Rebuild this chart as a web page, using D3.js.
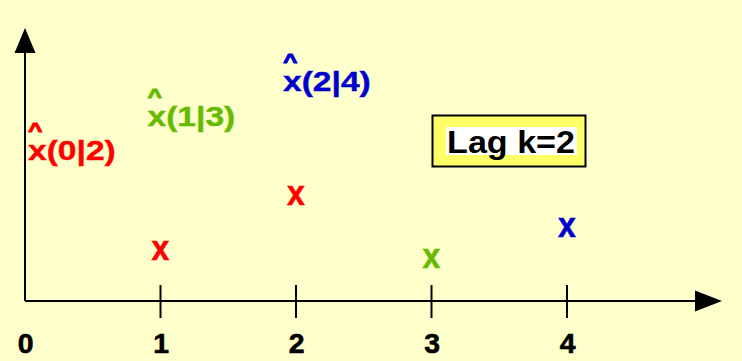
<!DOCTYPE html>
<html>
<head>
<meta charset="utf-8">
<script src="https://cdn.jsdelivr.net/npm/d3@7"></script>
<style>
  body { margin: 0; background: #ffffff; }
  text { font-family: "Liberation Sans", Arial, sans-serif; font-weight: bold; }
</style>
</head>
<body>
<div id="container"></div>
<script>
const times = [1, 2, 3, 4];
const values = [1.8, 3.8, 1.5, 2.65];
const pointColors = ["#ff0000", "#ff0000", "#66bb00", "#0000cc"];

// estimates x^(t|t+k) with lag k = 2
const estTimes = [0, 1, 2];
const estLabels = ["(0|2)", "(1|3)", "(2|4)"];
const estLevels = [5.25, 6.5, 7.75];
const estColors = ["#ff0000", "#66bb00", "#0000cc"];

const tickValues = [0, 1, 2, 3, 4];
const lagText = "Lag k=2";

const width = 742;
const height = 361;
const stretch = 1.2; // the original text is drawn wide

const svg = d3
  .select("#container")
  .append("svg")
  .attr("width", width)
  .attr("height", height);

// background
svg.append("rect")
  .attr("x", 0).attr("y", 0)
  .attr("width", width).attr("height", height)
  .attr("fill", "#ffffcc");

// scales
const xScale = d3.scaleLinear().domain([0, 4]).range([25, 567]);
const yScale = d3.scaleLinear().domain([0, 10]).range([301, 28]);

const x0 = xScale(0);
const y0 = yScale(0);

// axes lines
svg.append("line")
  .attr("x1", x0).attr("x2", 697)
  .attr("y1", y0).attr("y2", y0)
  .attr("stroke", "#000").attr("stroke-width", 2);
svg.append("line")
  .attr("x1", x0).attr("x2", x0)
  .attr("y1", y0).attr("y2", 52)
  .attr("stroke", "#000").attr("stroke-width", 2);

// arrow heads
svg.append("path")
  .attr("d", `M${695},${y0 - 10.5} L${722},${y0} L${695},${y0 + 10.5} Z`)
  .attr("fill", "#000");
svg.append("path")
  .attr("d", `M${x0 - 10.5},${53} L${x0},${yScale(10)} L${x0 + 10.5},${53} Z`)
  .attr("fill", "#000");

// ticks
svg.selectAll(".tick")
  .data(tickValues.filter((d) => d > 0))
  .enter()
  .append("line")
  .attr("class", "tick")
  .attr("x1", (d) => xScale(d)).attr("x2", (d) => xScale(d))
  .attr("y1", y0 - 16).attr("y2", y0 + 17)
  .attr("stroke", "#000").attr("stroke-width", 2);

// tick labels
svg.selectAll(".tick-label")
  .data(tickValues)
  .enter()
  .append("text")
  .attr("class", "tick-label")
  .attr("transform", (d) => `translate(${xScale(d) + 0.5},353) scale(1.05,1)`)
  .attr("text-anchor", "middle")
  .attr("font-size", 27)
  .attr("fill", "#000")
  .attr("stroke", "#000").attr("stroke-width", 0.6)
  .text((d) => d);

// observation markers
svg.selectAll(".obs")
  .data(times)
  .enter()
  .append("text")
  .attr("class", "obs")
  .attr("transform", (d, i) => `translate(${xScale(d)},${yScale(values[i]) + 8}) scale(1,1.1)`)
  .attr("text-anchor", "middle")
  .attr("font-size", 32)
  .attr("fill", (d, i) => pointColors[i])
  .attr("stroke", (d, i) => pointColors[i]).attr("stroke-width", 0.5)
  .text("x");

// estimate labels: hat and x(t|t+k) in one text element
const est = svg.selectAll(".est")
  .data(estTimes)
  .enter()
  .append("text")
  .attr("class", "est")
  .attr("transform", (d, i) =>
    `translate(${Math.max(xScale(d) - 13, 28)},${yScale(estLevels[i]) + 2}) scale(${stretch},1)`)
  .attr("fill", (d, i) => estColors[i])
  .attr("stroke", (d, i) => estColors[i]);

est.append("tspan")
  .attr("x", 0.3).attr("dy", -23)
  .attr("font-size", 20)
  .attr("stroke-width", 1.1)
  .text("^");

est.append("tspan")
  .attr("x", 0).attr("dy", 23)
  .attr("font-size", 28)
  .attr("stroke-width", 0.4)
  .text((d, i) => "x" + estLabels[i]);

// lag box
const box = svg.append("g").attr("transform", "translate(432,115)");
box.append("rect")
  .attr("x", 0.5).attr("y", 0.5)
  .attr("width", 153).attr("height", 51)
  .attr("fill", "#ffff66")
  .attr("stroke", "#000").attr("stroke-width", 2);
box.append("rect")
  .attr("x", 14).attr("y", 12)
  .attr("width", 131).attr("height", 28)
  .attr("fill", "#ffffff");
box.append("text")
  .attr("transform", "translate(79,38) scale(1.1,1)")
  .attr("text-anchor", "middle")
  .attr("font-size", 31)
  .attr("fill", "#000")
  .text(lagText);
</script>
</body>
</html>
